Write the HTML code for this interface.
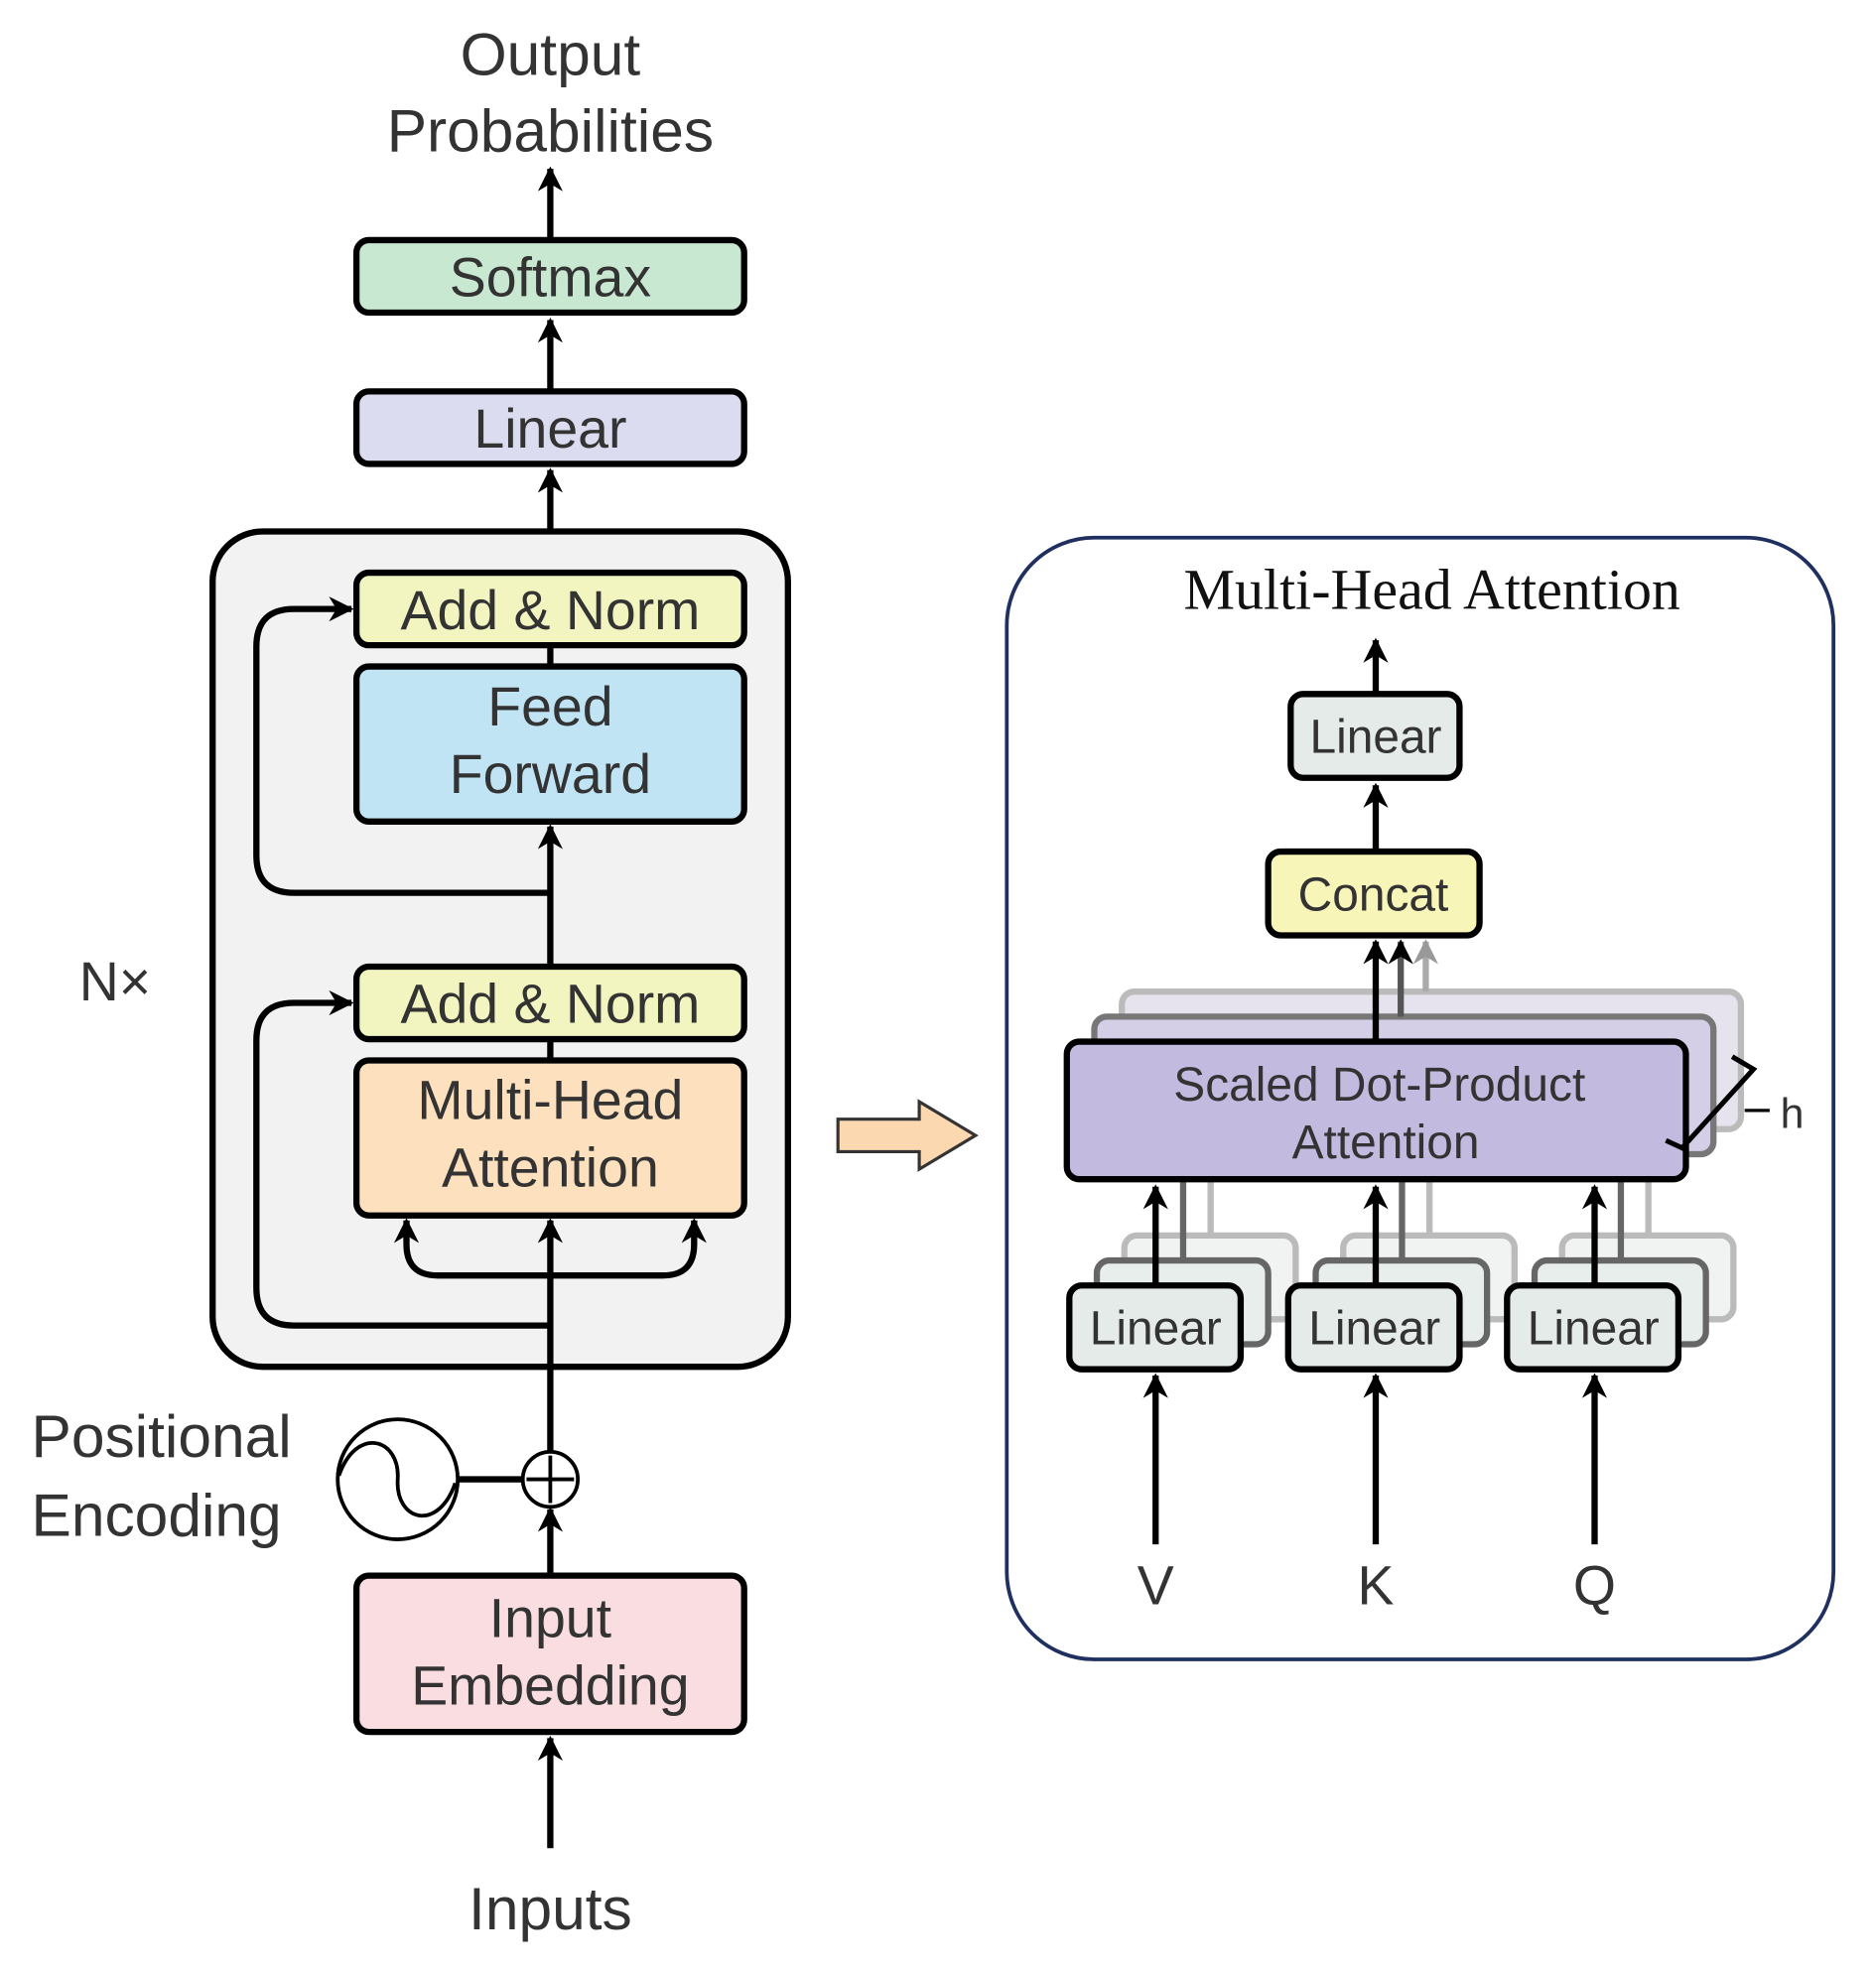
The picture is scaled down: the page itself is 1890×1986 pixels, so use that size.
<!DOCTYPE html>
<html><head><meta charset="utf-8"><style>html,body{margin:0;padding:0;background:#fff}svg{display:block}</style></head>
<body>
<svg width="1890" height="1986" viewBox="0 0 1500 1576.2" xmlns="http://www.w3.org/2000/svg" font-family="Liberation Sans, sans-serif">
<defs>
<marker id="ah" viewBox="0 0 10 10" refX="9" refY="5" markerWidth="4" markerHeight="4" orient="auto"><path d="M0,0 L10,5 L0,10 L3,5 z" fill="#000"/></marker>
<marker id="ahg" viewBox="0 0 10 10" refX="9" refY="5" markerWidth="4" markerHeight="4" orient="auto"><path d="M0,0 L10,5 L0,10 L3,5 z" fill="#999"/></marker>
</defs>
<g fill="#333" font-size="48" text-anchor="middle">
<text x="440" y="60">Output</text>
<text x="440" y="121">Probabilities</text>
</g>
<g stroke="#000" stroke-width="5" fill="none">
<line x1="440" y1="192" x2="440" y2="135" marker-end="url(#ah)"/>
<line x1="440" y1="313" x2="440" y2="256" marker-end="url(#ah)"/>
<line x1="440" y1="458" x2="440" y2="376" marker-end="url(#ah)"/>
</g>
<rect x="285" y="192" width="310" height="58" rx="10" fill="#c9e8d1" stroke="#000" stroke-width="5"/>
<rect x="285" y="313" width="310" height="58" rx="10" fill="#dcdcf0" stroke="#000" stroke-width="5"/>
<rect x="170" y="425" width="460" height="668" rx="40" fill="#f2f2f2" stroke="#000" stroke-width="5"/>
<g stroke="#000" stroke-width="5" fill="none">
<line x1="440" y1="516" x2="440" y2="533"/>
<line x1="440" y1="773" x2="440" y2="661" marker-end="url(#ah)"/>
<path d="M440,714 H235 Q205,714 205,684 V517 Q205,487 235,487 H281" marker-end="url(#ah)"/>
<line x1="440" y1="831" x2="440" y2="848"/>
<path d="M440,1060 H235 Q205,1060 205,1030 V832 Q205,802 235,802 H281" marker-end="url(#ah)"/>
<line x1="440" y1="1160" x2="440" y2="976" marker-end="url(#ah)"/>
<path d="M440,1020 H350 Q325,1020 325,995 V976" marker-end="url(#ah)"/>
<path d="M440,1020 H530 Q555,1020 555,995 V976" marker-end="url(#ah)"/>
<line x1="440" y1="1258" x2="440" y2="1207" marker-end="url(#ah)"/>
<line x1="440" y1="1478" x2="440" y2="1390" marker-end="url(#ah)"/>
<line x1="366" y1="1183" x2="418" y2="1183"/>
</g>
<rect x="285" y="458" width="310" height="58" rx="10" fill="#f3f5c0" stroke="#000" stroke-width="5"/>
<rect x="285" y="533" width="310" height="124" rx="10" fill="#c0e4f4" stroke="#000" stroke-width="5"/>
<rect x="285" y="773" width="310" height="58" rx="10" fill="#f3f5c0" stroke="#000" stroke-width="5"/>
<rect x="285" y="848" width="310" height="124" rx="10" fill="#fde0bd" stroke="#000" stroke-width="5"/>
<rect x="285" y="1260" width="310" height="125" rx="10" fill="#f9dde0" stroke="#000" stroke-width="5"/>
<circle cx="440" cy="1183" r="22" fill="#fff" stroke="#000" stroke-width="3"/>
<path d="M440,1164 V1202 M421,1183 H459" stroke="#000" stroke-width="3"/>
<circle cx="318" cy="1183" r="48" fill="#fff" stroke="#000" stroke-width="3"/>
<path d="M271,1180 C285,1140 320,1150 318,1183 C316,1216 350,1226 364,1186" fill="none" stroke="#000" stroke-width="3"/>
<g fill="#333" font-size="44" text-anchor="middle">
<text x="440" y="237">Softmax</text>
<text x="440" y="358">Linear</text>
<text x="440" y="503">Add &amp; Norm</text>
<text x="440" y="580">Feed</text>
<text x="440" y="634">Forward</text>
<text x="440" y="818">Add &amp; Norm</text>
<text x="440" y="895">Multi-Head</text>
<text x="440" y="949">Attention</text>
<text x="440" y="1309">Input</text>
<text x="440" y="1363">Embedding</text>
<text x="440" y="1543" font-size="48">Inputs</text>
<text x="92" y="800">N×</text>
</g>
<g fill="#333" font-size="48">
<text x="25" y="1165">Positional</text>
<text x="25" y="1228">Encoding</text>
</g>
<path d="M670,895 H735 V881 L780,908 L735,935 V921 H670 Z" fill="#fbd8b0" stroke="#333" stroke-width="2.5"/>
<rect x="805" y="430" width="661" height="897" rx="70" fill="#fff" stroke="#1f3060" stroke-width="3"/>
<text x="1145" y="487" font-family="Liberation Serif, serif" font-size="46" text-anchor="middle" fill="#111">Multi-Head Attention</text>
<g stroke="#000" stroke-width="5" fill="none">
<line x1="1100" y1="555" x2="1100" y2="512" marker-end="url(#ah)"/>
<line x1="1100" y1="681" x2="1100" y2="628" marker-end="url(#ah)"/>
</g>
<rect x="1032" y="555" width="135" height="67" rx="10" fill="#e4ebe8" stroke="#000" stroke-width="5"/>
<rect x="1014" y="681" width="169" height="67" rx="10" fill="#f8f5b8" stroke="#000" stroke-width="5"/>
<!-- stacked SDPA -->
<rect x="897" y="793" width="495" height="110" rx="10" fill="#e6e3ef" stroke="#bbb" stroke-width="5"/>
<rect x="875" y="813" width="495" height="110" rx="10" fill="#d4cfe6" stroke="#777" stroke-width="5"/>
<line x1="1140" y1="793" x2="1140" y2="753" stroke="#aaa" stroke-width="5" marker-end="url(#ahg)"/>
<line x1="1120" y1="813" x2="1120" y2="753" stroke="#555" stroke-width="5" marker-end="url(#ah)"/>
<line x1="1100" y1="833" x2="1100" y2="753" stroke="#000" stroke-width="5" marker-end="url(#ah)"/>
<!-- back linear copies & lines -->
<g stroke="#bbb" stroke-width="5" fill="#f0f3f2">
<rect x="899" y="988" width="137" height="67" rx="10"/>
<rect x="1074" y="988" width="137" height="67" rx="10"/>
<rect x="1249" y="988" width="137" height="67" rx="10"/>
<line x1="968" y1="988" x2="968" y2="940"/><line x1="1143" y1="988" x2="1143" y2="940"/><line x1="1318" y1="988" x2="1318" y2="940"/>
</g>
<g stroke="#666" stroke-width="5" fill="#e8eeec">
<rect x="877" y="1008" width="137" height="67" rx="10"/>
<rect x="1052" y="1008" width="137" height="67" rx="10"/>
<rect x="1227" y="1008" width="137" height="67" rx="10"/>
<line x1="946" y1="1008" x2="946" y2="940"/><line x1="1121" y1="1008" x2="1121" y2="940"/><line x1="1296" y1="1008" x2="1296" y2="940"/>
</g>
<rect x="853" y="833" width="495" height="110" rx="10" fill="#c3badf" stroke="#000" stroke-width="5"/>
<path d="M1385,845 L1402,855 L1345,918 L1332,912" fill="none" stroke="#000" stroke-width="4"/>
<line x1="1395" y1="888" x2="1415" y2="888" stroke="#000" stroke-width="2.5"/>
<text x="1433" y="902" font-size="34" text-anchor="middle" fill="#333">h</text>
<g stroke="#000" stroke-width="5" fill="none">
<line x1="924" y1="1028" x2="924" y2="949" marker-end="url(#ah)"/>
<line x1="1100" y1="1028" x2="1100" y2="949" marker-end="url(#ah)"/>
<line x1="1275" y1="1028" x2="1275" y2="949" marker-end="url(#ah)"/>
<line x1="924" y1="1235" x2="924" y2="1100" marker-end="url(#ah)"/>
<line x1="1100" y1="1235" x2="1100" y2="1100" marker-end="url(#ah)"/>
<line x1="1275" y1="1235" x2="1275" y2="1100" marker-end="url(#ah)"/>
</g>
<g stroke="#000" stroke-width="5" fill="#e4ebe8">
<rect x="855" y="1028" width="137" height="67" rx="10"/>
<rect x="1030" y="1028" width="137" height="67" rx="10"/>
<rect x="1205" y="1028" width="137" height="67" rx="10"/>
</g>
<g fill="#333" font-size="38" text-anchor="middle">
<text x="1100" y="602">Linear</text>
<text x="1098" y="728">Concat</text>
<text x="1103" y="880">Scaled Dot-Product</text>
<text x="1108" y="926">Attention</text>
<text x="924" y="1075">Linear</text>
<text x="1099" y="1075">Linear</text>
<text x="1274" y="1075">Linear</text>
<text x="924" y="1283" font-size="44">V</text>
<text x="1100" y="1283" font-size="44">K</text>
<text x="1275" y="1283" font-size="44">Q</text>
</g>
</svg>
</body></html>
